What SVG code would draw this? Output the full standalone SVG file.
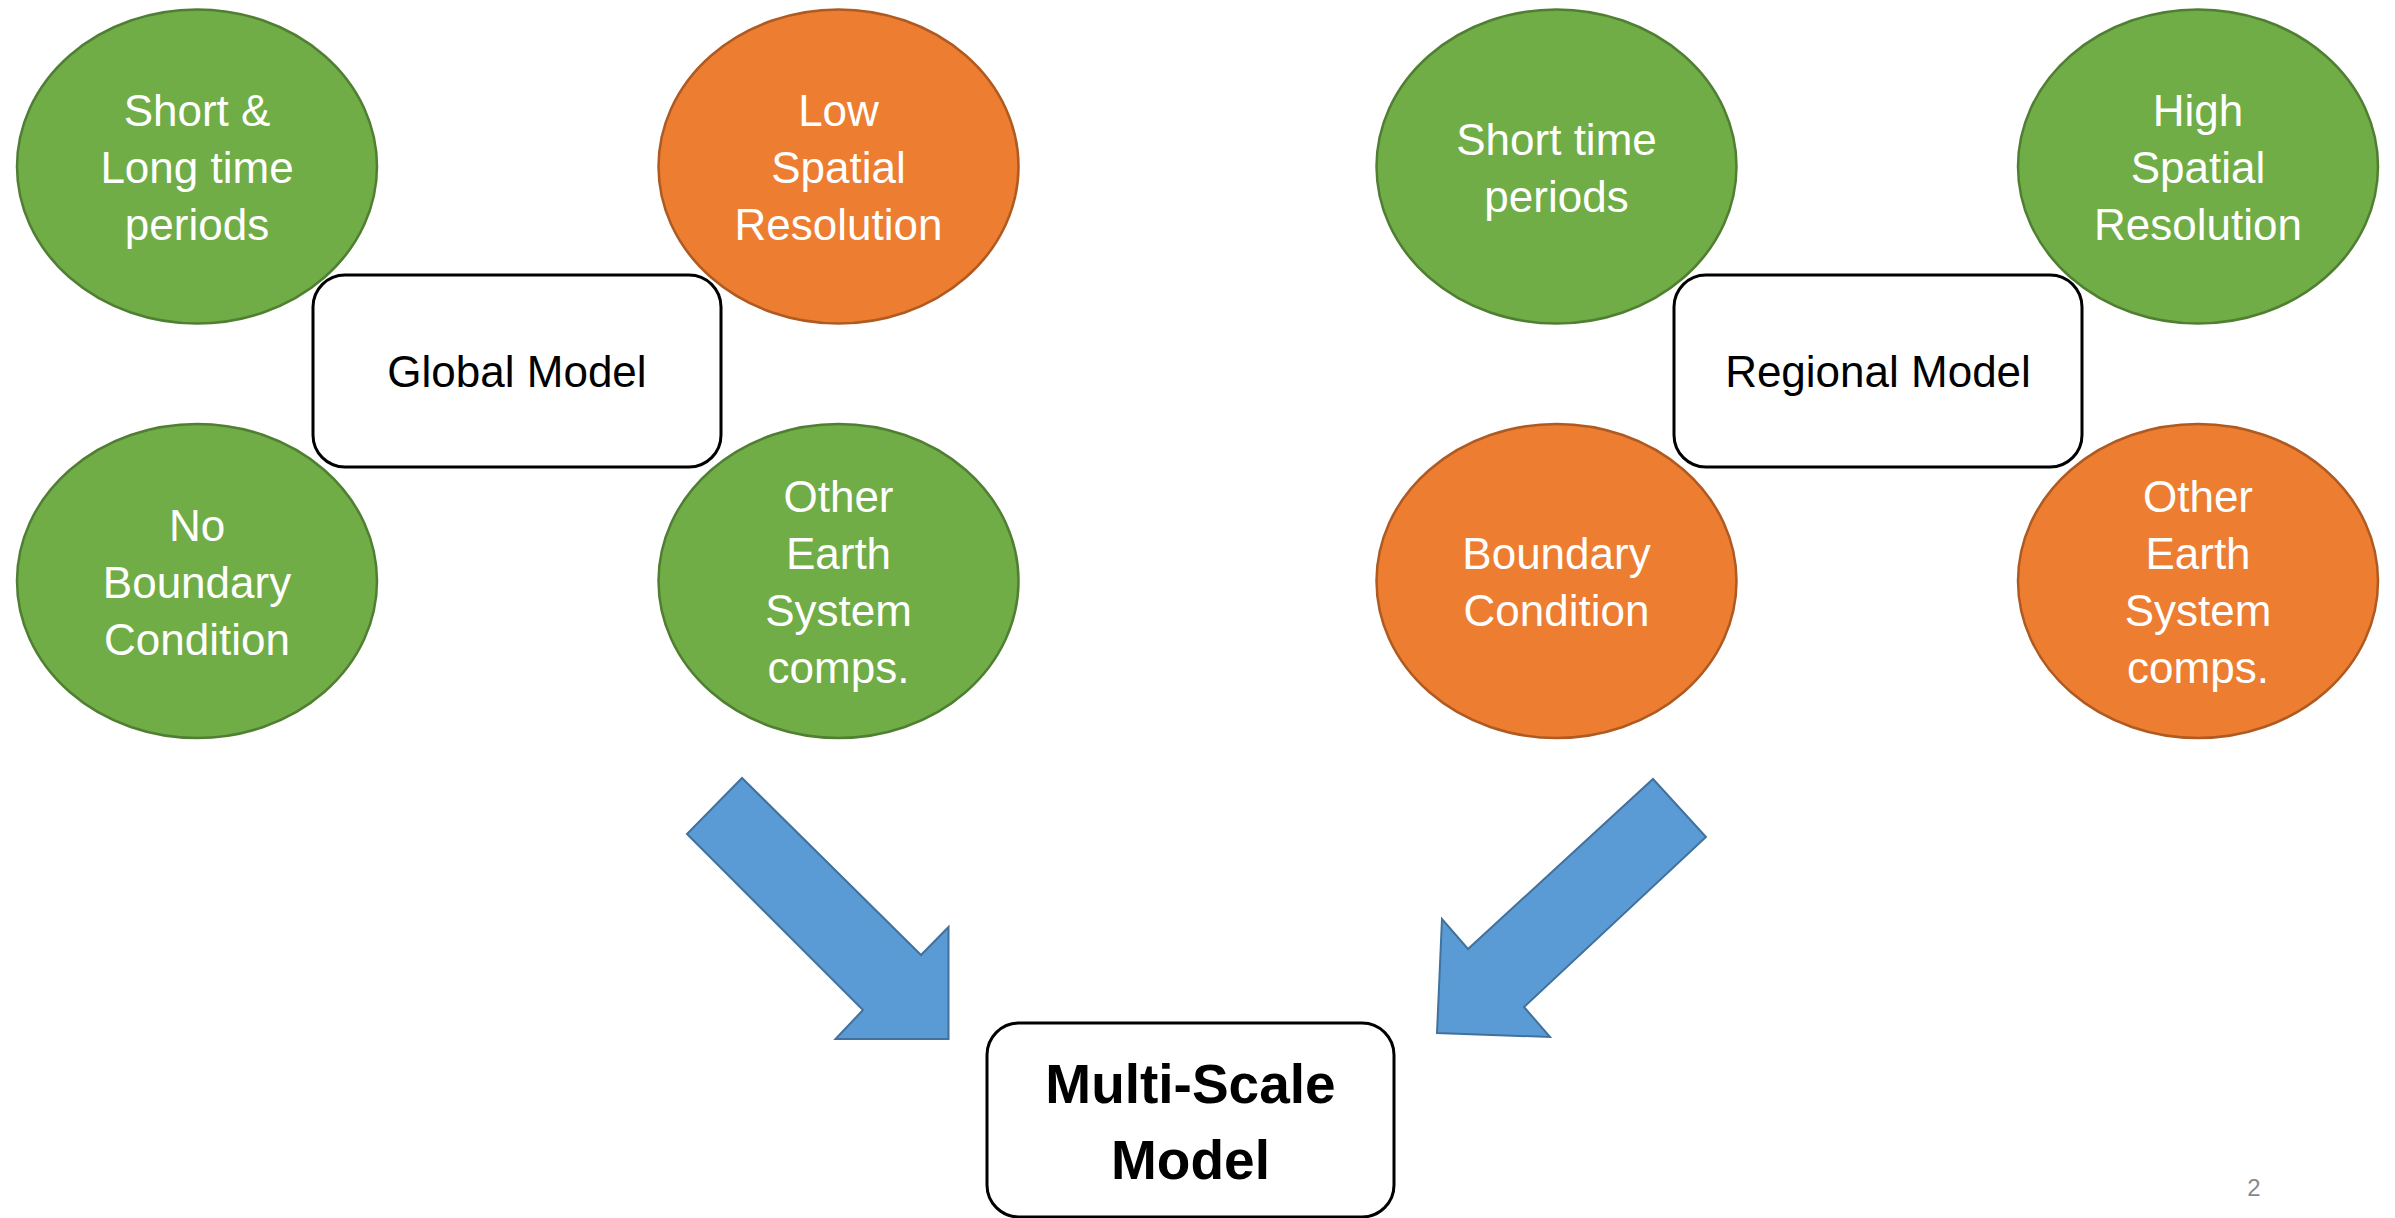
<svg xmlns="http://www.w3.org/2000/svg" width="2395" height="1218" viewBox="0 0 2395 1218">
<style>
.g{fill:#70AD47;stroke:#507E32;stroke-width:2.5}
.o{fill:#ED7D31;stroke:#AE5A21;stroke-width:2.5}
.box{fill:#fff;stroke:#000;stroke-width:3}
.arr{fill:#5B9BD5;stroke:#41719C;stroke-width:2}
.t{font-family:"Liberation Sans",Arial,sans-serif;font-size:44px;text-anchor:middle}
.w{fill:#fff}
.k{fill:#000}
.b{font-weight:bold;font-size:55px}
</style>
<rect width="2395" height="1218" fill="#fff"/>
<g id="connectors">
<polygon class="arr" points="742,778 687,834 863,1010 835.5,1039 948.5,1039 948.5,927 921,955"/>
<polygon class="arr" points="1653,779 1706,837 1524,1007 1550,1037 1437,1033 1442,919 1468,949"/>
</g>
<g id="n_short_long">
<ellipse class="g" cx="197" cy="166.5" rx="180" ry="157"/>
<text class="t w"><tspan x="197" y="126">Short &amp;</tspan><tspan x="197" y="183">Long time</tspan><tspan x="197" y="240">periods</tspan></text>
</g>
<g id="n_low_spatial">
<ellipse class="o" cx="838.5" cy="166.5" rx="180" ry="157"/>
<text class="t w"><tspan x="838.5" y="126">Low</tspan><tspan x="838.5" y="183">Spatial</tspan><tspan x="838.5" y="240">Resolution</tspan></text>
</g>
<g id="n_no_boundary">
<ellipse class="g" cx="197" cy="581" rx="180" ry="157"/>
<text class="t w"><tspan x="197" y="541">No</tspan><tspan x="197" y="598">Boundary</tspan><tspan x="197" y="655">Condition</tspan></text>
</g>
<g id="n_other_global">
<ellipse class="g" cx="838.5" cy="581" rx="180" ry="157"/>
<text class="t w"><tspan x="838.5" y="512">Other</tspan><tspan x="838.5" y="569">Earth</tspan><tspan x="838.5" y="626">System</tspan><tspan x="838.5" y="683">comps.</tspan></text>
</g>
<g id="n_global">
<rect class="box" x="313" y="275" width="408" height="192" rx="32"/>
<text class="t k" x="517" y="387">Global Model</text>
</g>
<g id="n_short_time">
<ellipse class="g" cx="1556.5" cy="166.5" rx="180" ry="157"/>
<text class="t w"><tspan x="1556.5" y="155">Short time</tspan><tspan x="1556.5" y="212">periods</tspan></text>
</g>
<g id="n_high_spatial">
<ellipse class="g" cx="2198" cy="166.5" rx="180" ry="157"/>
<text class="t w"><tspan x="2198" y="126">High</tspan><tspan x="2198" y="183">Spatial</tspan><tspan x="2198" y="240">Resolution</tspan></text>
</g>
<g id="n_boundary">
<ellipse class="o" cx="1556.5" cy="581" rx="180" ry="157"/>
<text class="t w"><tspan x="1556.5" y="569">Boundary</tspan><tspan x="1556.5" y="626">Condition</tspan></text>
</g>
<g id="n_other_regional">
<ellipse class="o" cx="2198" cy="581" rx="180" ry="157"/>
<text class="t w"><tspan x="2198" y="512">Other</tspan><tspan x="2198" y="569">Earth</tspan><tspan x="2198" y="626">System</tspan><tspan x="2198" y="683">comps.</tspan></text>
</g>
<g id="n_regional">
<rect class="box" x="1674" y="275" width="408" height="192" rx="32"/>
<text class="t k" x="1878" y="387">Regional Model</text>
</g>
<g id="n_multiscale">
<rect class="box" x="987" y="1023" width="407" height="194" rx="32"/>
<text class="t k b"><tspan x="1190.5" y="1103">Multi-Scale</tspan><tspan x="1190.5" y="1179">Model</tspan></text>
</g>
<text x="2254" y="1196" font-family="Liberation Sans,Arial,sans-serif" font-size="24" fill="#898989" text-anchor="middle">2</text>
</svg>
